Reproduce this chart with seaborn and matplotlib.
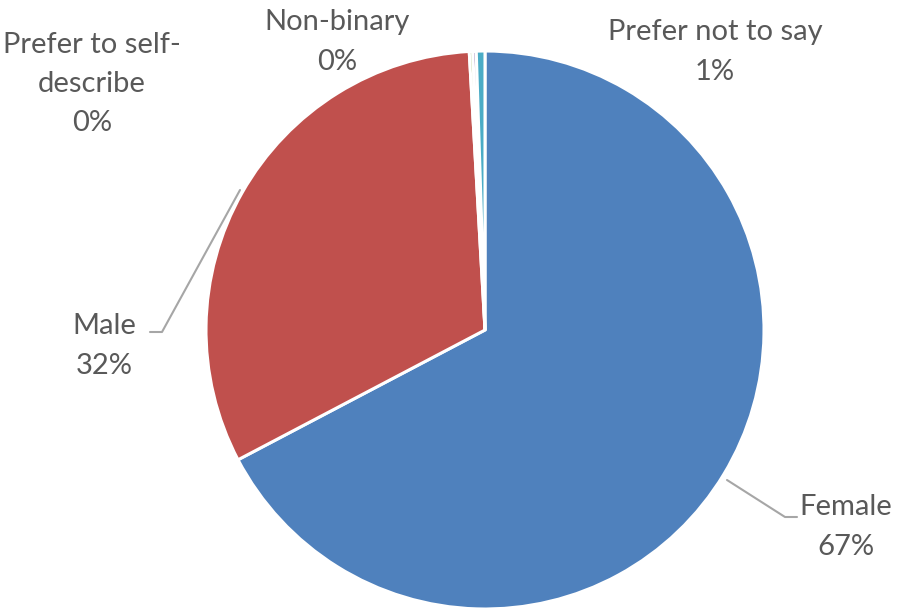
import matplotlib
matplotlib.use("Agg")
import matplotlib.pyplot as plt
import seaborn as sns

categories = ["Female", "Male", "Non-binary", "Prefer to self-describe", "Prefer not to say"]
values = [67.3, 31.8, 0.2, 0.2, 0.5]
pct_labels = ["67%", "32%", "0%", "0%", "1%"]

sns.set_style("white")
plt.rcParams['font.family'] = ['Lato', 'DejaVu Sans']

colors = ["#4F81BD", "#C0504D", "#9BBB59", "#8064A2", "#4BACC6"]

W, H = 910, 610
fig = plt.figure(figsize=(W / 100, H / 100), dpi=100)
ax = fig.add_axes([0, 0, 1, 1])
ax.set_xlim(0, W)
ax.set_ylim(H, 0)
ax.set_aspect("equal")
ax.axis("off")

cx, cy, r = 485, 330, 279
ax.pie(values, colors=colors, startangle=-90, counterclock=True,
       center=(cx, cy), radius=r, frame=True,
       wedgeprops=dict(edgecolor="white", linewidth=2.2))
ax.set_xlim(0, W)
ax.set_ylim(H, 0)
ax.axis("off")

txt = dict(color="#595959", fontsize=21, ha="center", va="center", linespacing=1.62)
label_pos = {
    "Female": (846, 527),
    "Male": (104, 346),
    "Non-binary": (337, 42),
    "Prefer to self-describe": (92, 84),
    "Prefer not to say": (715, 52),
}
display = {
    "Prefer to self-describe": "Prefer to self-\ndescribe",
}
for cat, p in zip(categories, pct_labels):
    x, y = label_pos[cat]
    ax.text(x, y, f"{display.get(cat, cat)}\n{p}", **txt)

lc = "#A6A6A6"
ax.plot([150, 162, 240], [332, 332, 190], color=lc, lw=1.5)
ax.plot([727, 785, 797], [480, 517, 517], color=lc, lw=1.5)

fig.savefig("out.png", dpi=100)
